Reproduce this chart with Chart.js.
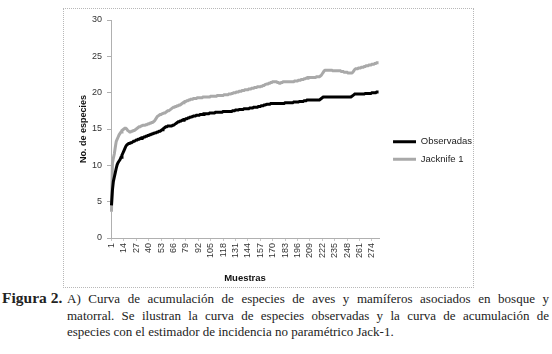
<!DOCTYPE html>
<html><head><meta charset="utf-8">
<script src="https://cdn.jsdelivr.net/npm/chart.js@4.4.0/dist/chart.umd.min.js"></script>
<style>
html,body{margin:0;padding:0;background:#fff;width:552px;height:354px;overflow:hidden;}
#frame{position:absolute;left:63px;top:8px;width:409px;height:278px;border:1px dotted #b8b8b8;box-sizing:content-box;}
#wrap{position:absolute;left:63px;top:8px;width:430px;height:279px;}
#cap{position:absolute;left:0;top:291px;width:552px;font-family:"Liberation Serif","DejaVu Serif",serif;font-size:13px;line-height:16.7px;color:#222;}
.fig{position:absolute;left:2px;top:-1px;font-weight:bold;font-size:15.5px;}
.ln{position:absolute;left:67px;width:482px;text-align:justify;text-align-last:justify;}
.last{text-align:left;text-align-last:left;}
</style></head>
<body>
<div id="frame"></div>
<div id="wrap"><canvas id="c" width="430" height="279"></canvas></div>
<div id="cap">
<div class="fig">Figura 2.</div>
<div class="ln" style="top:0">A) Curva de acumulación de especies de aves y mamíferos asociados en bosque y</div>
<div class="ln" style="top:16.7px">matorral. Se ilustran la curva de especies observadas y la curva de acumulación de</div>
<div class="ln last" style="top:33.4px">especies con el estimador de incidencia no paramétrico Jack-1.</div>
</div>
<script>
const sampleCount = 281;
const categories = Array.from({length: sampleCount}, (_, i) => String(i + 1));
const tickLabels = ['1','14','27','40','53','66','79','92','105','118','131','144','157','170','183','196','209','222','235','248','261','274'];
const yTicks = [0, 5, 10, 15, 20, 25, 30];
const seriesNames = ['Observadas', 'Jacknife 1'];

const observadas = [
4.5,6.6,7.8,8.4,9.0,9.6,10.1,10.4,10.6,10.8,
11.1,11.4,11.7,12.0,12.3,12.6,12.8,12.9,13.0,13.0,
13.1,13.1,13.2,13.3,13.3,13.4,13.5,13.5,13.6,13.6,
13.7,13.7,13.8,13.8,13.9,13.9,14.0,14.0,14.1,14.1,
14.2,14.2,14.3,14.3,14.4,14.4,14.5,14.5,14.6,14.6,
14.7,14.7,14.8,14.9,15.0,15.1,15.2,15.3,15.3,15.4,
15.4,15.4,15.4,15.4,15.5,15.5,15.6,15.7,15.8,15.9,
16.0,16.0,16.1,16.1,16.2,16.2,16.3,16.3,16.4,16.4,
16.5,16.5,16.6,16.6,16.7,16.7,16.8,16.8,16.8,16.9,
16.9,16.9,16.9,17.0,17.0,17.0,17.0,17.1,17.1,17.1,
17.1,17.1,17.1,17.2,17.2,17.2,17.2,17.2,17.2,17.3,
17.3,17.3,17.3,17.3,17.3,17.3,17.3,17.4,17.4,17.4,
17.4,17.4,17.4,17.4,17.4,17.4,17.4,17.5,17.5,17.5,
17.6,17.6,17.6,17.6,17.7,17.7,17.7,17.7,17.7,17.8,
17.8,17.8,17.8,17.8,17.8,17.9,17.9,17.9,17.9,18.0,
18.0,18.0,18.0,18.0,18.1,18.1,18.1,18.2,18.2,18.2,
18.3,18.3,18.3,18.4,18.4,18.4,18.4,18.5,18.5,18.5,
18.5,18.5,18.5,18.5,18.5,18.5,18.5,18.5,18.5,18.5,
18.5,18.5,18.6,18.6,18.6,18.6,18.6,18.6,18.6,18.6,
18.6,18.7,18.7,18.7,18.7,18.7,18.7,18.8,18.8,18.8,
18.8,18.8,18.9,18.9,18.9,19.0,19.0,19.0,19.0,19.0,
19.0,19.0,19.0,19.0,19.0,19.0,19.0,19.0,19.0,19.1,
19.2,19.3,19.4,19.4,19.4,19.4,19.4,19.4,19.4,19.4,
19.4,19.4,19.4,19.4,19.4,19.4,19.4,19.4,19.4,19.4,
19.4,19.4,19.4,19.4,19.4,19.4,19.4,19.4,19.4,19.4,
19.4,19.4,19.5,19.6,19.7,19.8,19.8,19.8,19.8,19.8,
19.8,19.8,19.8,19.8,19.8,19.8,19.9,19.9,19.9,19.9,
19.9,19.9,19.9,20.0,20.0,20.0,20.0,20.0,20.1,20.1,20.1
];

const jacknife1 = [
3.6,10.3,11.0,11.6,12.5,13.3,13.6,13.9,14.2,14.4,
14.6,14.8,14.9,15.0,15.1,15.1,15.0,14.8,14.7,14.6,
14.6,14.7,14.7,14.8,14.8,14.9,15.0,15.1,15.2,15.3,
15.3,15.4,15.4,15.5,15.5,15.5,15.6,15.6,15.7,15.7,
15.8,15.8,15.9,15.9,16.0,16.1,16.3,16.5,16.7,16.8,
16.9,17.0,17.0,17.1,17.1,17.2,17.2,17.3,17.4,17.5,
17.5,17.6,17.7,17.8,17.9,18.0,18.0,18.1,18.1,18.2,
18.2,18.3,18.3,18.4,18.5,18.6,18.7,18.8,18.8,18.9,
18.9,19.0,19.0,19.1,19.1,19.1,19.2,19.2,19.2,19.2,
19.3,19.3,19.3,19.3,19.3,19.3,19.4,19.4,19.4,19.4,
19.4,19.4,19.4,19.4,19.5,19.5,19.5,19.5,19.5,19.5,
19.5,19.6,19.6,19.6,19.6,19.6,19.6,19.6,19.7,19.7,
19.7,19.7,19.7,19.8,19.8,19.8,19.9,19.9,20.0,20.0,
20.0,20.1,20.1,20.1,20.2,20.2,20.2,20.3,20.3,20.3,
20.4,20.4,20.4,20.4,20.5,20.5,20.5,20.6,20.6,20.6,
20.7,20.7,20.7,20.8,20.8,20.8,20.8,20.9,20.9,21.0,
21.0,21.1,21.1,21.2,21.2,21.3,21.3,21.4,21.4,21.5,
21.5,21.5,21.5,21.5,21.4,21.4,21.3,21.3,21.4,21.4,
21.5,21.5,21.5,21.5,21.5,21.5,21.5,21.5,21.5,21.5,
21.5,21.5,21.6,21.6,21.6,21.6,21.7,21.7,21.7,21.8,
21.8,21.8,21.9,21.9,22.0,22.0,22.1,22.1,22.1,22.1,
22.1,22.1,22.1,22.1,22.1,22.2,22.2,22.2,22.2,22.3,
22.4,22.6,22.8,23.0,23.1,23.1,23.1,23.1,23.1,23.1,
23.1,23.1,23.0,23.0,23.0,23.0,23.0,23.0,23.0,23.0,
23.0,22.9,22.9,22.9,22.8,22.8,22.8,22.8,22.7,22.7,
22.7,22.7,22.7,22.8,23.0,23.2,23.3,23.3,23.3,23.4,
23.4,23.4,23.5,23.5,23.5,23.6,23.6,23.7,23.7,23.7,
23.8,23.8,23.8,23.9,23.9,23.9,24.0,24.0,24.1,24.1,24.1
];

const axisGray = '#b0b0b0';
const sans = '"Liberation Sans", Arial, sans-serif';
const tickFont = {family: sans, size: 9};
const targetRight = 316;   // canvas-relative right edge of plot area
const legendGap = 14;      // gap between plot area and legend sample line
const legendDy = -3;

const legendShift = {
  id: 'legendShift',
  afterLayout(chart) {
    const lg = chart.legend;
    if (!lg || !chart.chartArea) return;
    const dx = chart.chartArea.right + legendGap - (lg.left + lg.options.labels.padding);
    lg.left += dx; lg.right += dx;
    lg.top += legendDy; lg.bottom += legendDy;
  }
};

const chart = new Chart(document.getElementById('c'), {
  type: 'line',
  data: {
    labels: categories,
    datasets: [
      {label: seriesNames[0], data: observadas, borderColor: '#000', backgroundColor: '#000', borderWidth: 3, pointRadius: 0, tension: 0},
      {label: seriesNames[1], data: jacknife1, borderColor: '#a9a9a9', backgroundColor: '#a9a9a9', borderWidth: 3, pointRadius: 0, tension: 0},
      {label: '_overlay', data: jacknife1, borderColor: '#e2e2e2', borderWidth: 1, borderDash: [1, 2], pointRadius: 0, tension: 0}
    ]
  },
  plugins: [legendShift],
  options: {
    responsive: false,
    animation: false,
    devicePixelRatio: 1,
    layout: {padding: {top: 12, right: 0, bottom: 0, left: 0}},
    plugins: {
      tooltip: {enabled: false},
      legend: {
        position: 'right',
        labels: {
          boxWidth: 23, boxHeight: 3, padding: 8, color: '#222',
          font: {family: sans, size: 9.5},
          filter: (item) => item.text !== '_overlay',
          generateLabels: (chart) => Chart.defaults.plugins.legend.labels.generateLabels(chart).map(l => Object.assign(l, {lineWidth: 0}))
        }
      }
    },
    scales: {
      x: {
        type: 'category',
        offset: true,
        grid: {display: true, drawOnChartArea: false, drawTicks: true, tickLength: 3, color: '#c8c8c8', offset: false},
        border: {display: true, color: axisGray, width: 1},
        ticks: {
          autoSkip: false, minRotation: 90, maxRotation: 90, padding: 2, color: '#333', font: tickFont,
          callback: function(v) { const l = this.getLabelForValue(v); return tickLabels.includes(l) ? l : null; }
        },
        title: {display: true, text: 'Muestras', color: '#111', font: {family: sans, size: 9.5, weight: 'bold'}, padding: {top: 0, bottom: 3}},
        afterFit: (s) => { s.height = 49; }
      },
      y: {
        min: 0, max: 30,
        afterBuildTicks: (s) => { s.ticks = yTicks.map(v => ({value: v})); },
        grid: {display: true, drawOnChartArea: false, drawTicks: true, tickLength: 4, color: axisGray},
        border: {display: true, color: axisGray, width: 1},
        ticks: {padding: 5, color: '#333', font: tickFont},
        title: {display: true, text: 'No. de especies', color: '#111', font: {family: sans, size: 9, weight: 'bold'}, padding: {top: 15, bottom: 4}},
        afterFit: (s) => { s.width = 48; }
      }
    }
  }
});
chart.options.layout.padding.right += Math.round(chart.chartArea.right - targetRight);
chart.update();
</script>
</body></html>
